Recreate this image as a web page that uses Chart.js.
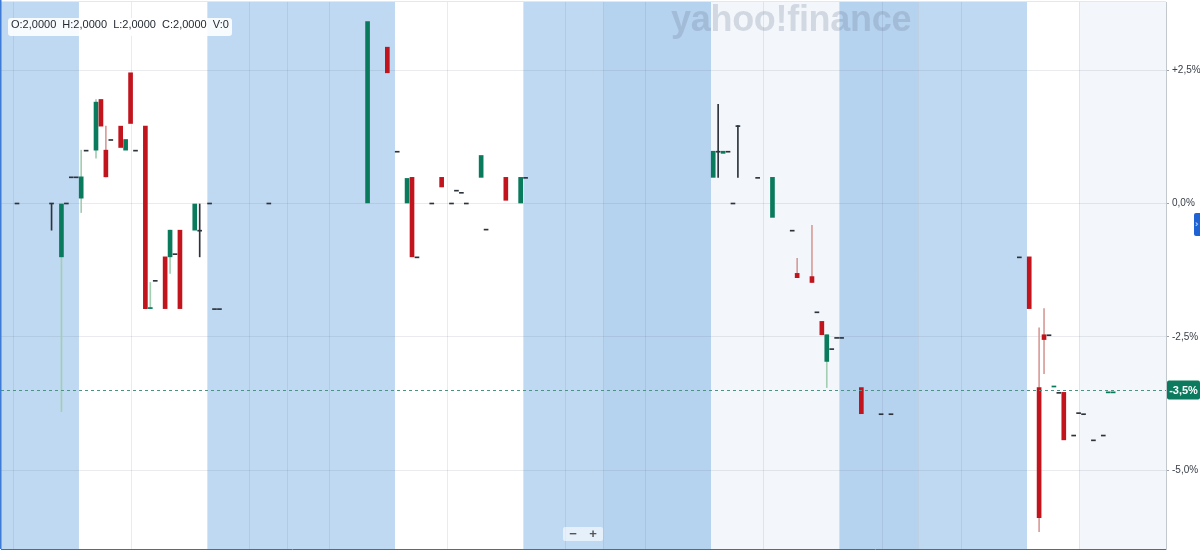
<!DOCTYPE html>
<html>
<head>
<meta charset="utf-8">
<script src="https://cdn.jsdelivr.net/npm/chart.js@4.4.1/dist/chart.umd.min.js"></script>
<style>
    html, body { margin: 0; padding: 0; background: #fff; }
    #wrap { position: relative; width: 1200px; height: 551px; overflow: hidden; }
    canvas { display: block; }
    #ohlc {
        position: absolute; left: 8px; top: 18px; height: 18px; line-height: 18px;
        padding: 0 3px; border-radius: 3px; background: rgba(255,255,255,0.88);
        font: 11px "Liberation Sans", Arial, sans-serif; color: #232a31; white-space: pre;
    }
    #logo {
        position: absolute; left: 671px; top: -2px; font: 800 36px "Liberation Sans", Arial, sans-serif;
        letter-spacing: -0.3px; color: rgba(95,110,135,0.22); white-space: pre;
    }
    #zoomer {
        position: absolute; left: 563px; top: 527px; width: 40px; height: 14px;
        background: rgba(255,255,255,0.6); border-radius: 2px; display: flex;
        font: bold 13px "Liberation Sans", Arial, sans-serif; color: #555; line-height: 14px;
    }
    #zoomer span { flex: 1; text-align: center; }
    #tab {
        position: absolute; left: 1194px; top: 213px; width: 8px; height: 23px; background: #1f62d4;
        border-radius: 2px 0 0 2px; color: #fff; font: 9px "Liberation Sans", Arial, sans-serif;
        line-height: 23px; padding-left: 1px;
    }
</style>
</head>
<body>
<div id="wrap">
    <canvas id="candles" width="1200" height="551"></canvas>
    <div id="logo">yahoo!finance</div>
    <div id="ohlc">O:2,0000  H:2,0000  L:2,0000  C:2,0000  V:0</div>
    <div id="zoomer"><span>−</span><span>+</span></div>
    <div id="tab">›</div>
</div>
<script>
// 15-minute slots over extended hours (16h per day = 64 slots), values in % change
const slots = [3, 10, 12, 13, 14, 15, 16, 17, 19, 20,
    21, 22, 24, 25, 26, 27, 29, 30, 31, 33,
    34, 35, 36, 39, 40, 42, 43, 44, 54, 74,
    78, 80, 82, 83, 84, 87, 89, 91, 92, 93,
    94, 97, 98, 102, 105, 106, 144, 145, 146, 147,
    148, 149, 153, 156, 160, 161, 164, 165, 166, 167,
    168, 169, 170, 174, 178, 180, 206, 208, 210, 211,
    212, 213, 214, 215, 217, 218, 219, 221, 223, 224,
    225];
const opens = [0, 0, -1.0, 0, 0.5, 0.5, 0.1, 1.0, 1.0, 1.95,
    1.0, 1.2, 1.45, 1.0, 2.45, 1.0, 1.45, -1.97, -1.44, -1.0,
    -1.0, -0.94, -0.5, -0.5, -0.5, 0, -1.97, -1.97, 0, 0,
    2.93, 0.98, 0, 0.49, -1.0, 0, 0.49, 0, 0.25, 0.21,
    0, 0.49, -0.48, 0.49, 0, 0.49, 0.49, 0.98, 0.94, 0.98,
    0, 1.46, 0.49, -0.26, -0.5, -1.31, -1.37, -2.03, -2.21, -2.96,
    -2.72, -2.51, -2.51, -3.45, -3.94, -3.94, -1.0, -1.0, -3.45, -2.46,
    -2.46, -3.44, -3.54, -3.54, -4.34, -3.92, -3.94, -4.43, -4.34, -3.55,
    -3.55];
const highs = [0, 0, 0, 0, 0.5, 0.5, 1.0, 1.0, 1.95, 1.95,
    1.45, 1.2, 1.45, 1.2, 2.45, 1.0, 1.45, -1.48, -1.44, -1.0,
    -0.5, -0.94, -0.5, 0, 0, 0, -1.97, -1.97, 0, 3.41,
    2.93, 0.98, 0.47, 0.49, -1.0, 0, 0.49, 0, 0.25, 0.21,
    0, 0.9, -0.48, 0.49, 0.49, 0.49, 0.98, 1.86, 0.98, 0.98,
    0, 1.46, 0.49, 0.49, -0.5, -1.03, -0.41, -2.03, -2.21, -2.46,
    -2.72, -2.51, -2.51, -3.45, -3.94, -3.94, -1.0, -1.0, -2.33, -1.97,
    -2.46, -3.42, -3.54, -3.54, -4.34, -3.92, -3.94, -4.43, -4.34, -3.53,
    -3.53];
const lows = [0, -0.5, -3.9, 0, 0.5, 0.5, -0.17, 1.0, 0.85, 1.45,
    0.5, 1.2, 1.05, 1.0, 1.5, 1.0, -1.97, -1.97, -1.44, -1.97,
    -1.31, -0.94, -1.97, -0.5, -1.0, 0, -1.97, -1.97, 0, 0,
    2.45, 0.98, 0, -1.0, -1.0, 0, 0.31, 0, 0.25, 0.21,
    0, 0.49, -0.48, 0.06, 0, 0.49, 0.49, 0.49, 0.94, 0.98,
    0, 0.49, 0.49, -0.26, -0.5, -1.39, -1.48, -2.03, -2.46, -3.45,
    -2.72, -2.51, -2.51, -3.94, -3.94, -3.94, -1.0, -1.97, -6.15, -3.19,
    -2.46, -3.44, -3.54, -4.43, -4.34, -3.92, -3.94, -4.43, -4.34, -3.55,
    -3.55];
const closes = [0, 0, 0, 0, 0.5, 0.5, 0.5, 1.0, 1.9, 1.45,
    0.5, 1.2, 1.05, 1.2, 1.5, 1.0, -1.97, -1.95, -1.44, -1.97,
    -0.5, -0.94, -1.97, 0, -0.5, 0, -1.97, -1.97, 0, 3.41,
    2.45, 0.98, 0.47, -1.0, -1.0, 0, 0.31, 0, 0.25, 0.21,
    0, 0.9, -0.48, 0.06, 0.49, 0.49, 0.98, 0.98, 0.98, 0.98,
    0, 1.46, 0.49, 0.49, -0.5, -1.39, -1.48, -2.03, -2.46, -2.46,
    -2.72, -2.51, -2.51, -3.94, -3.94, -3.94, -1.0, -1.97, -5.89, -2.55,
    -2.46, -3.42, -3.54, -4.43, -4.34, -3.92, -3.94, -4.43, -4.34, -3.53,
    -3.53];

const lastPct = -3.5;
const yTicks = [2.5, 0, -2.5, -5];
const yRange = [-6.476, 3.777];
const xRange = [-0.24, 235.7];
// vertical grid at 6:00, 12:00, 18:00, 20:00 of each day
const gridSlots = [2.2, 26.2, 50.1, 57.7, 66.2, 90.2, 114.1, 121.7, 130.2, 154.2, 178.2, 185.6, 194.2, 218.1];
// session shading: edges and kind of each band
const bandEdges = [-0.24, 15.55, 41.55, 79.55, 105.55, 121.7, 143.55, 169.55, 185.6, 207.55, 218.1, 235.7];
const bandKinds = ['ext', 'reg', 'ext', 'reg', 'ext', 'extHi', 'regHi', 'extHi', 'ext', 'reg', 'regHi'];

const bandColors = { ext: '#bfd9f2', extHi: '#b5d2ef', reg: '#ffffff', regHi: '#f3f7fb' };
const upColor = '#0a7a5d';
const downColor = '#c1141d';
const flatColor = '#2d333c';

const fmtPct = v => (v > 0 ? '+' : '') + v.toFixed(1).replace('.', ',') + '%';

const bodyData = slots.map((s, i) => ({ x: s, y: [opens[i], closes[i]] }));
const bodyColors = slots.map((s, i) => closes[i] > opens[i] ? upColor : closes[i] < opens[i] ? downColor : flatColor);

const wickData = [];
const wickColors = [];
slots.forEach((s, i) => {
    const top = Math.max(opens[i], closes[i]);
    const bot = Math.min(opens[i], closes[i]);
    if (highs[i] > top || lows[i] < bot) {
        wickData.push({ x: s, y: [lows[i], highs[i]] });
        wickColors.push(closes[i] > opens[i] ? '#a3ceb2' : closes[i] < opens[i] ? '#d79d99' : flatColor);
    }
});

const sessionBands = {
    id: 'sessionBands',
    beforeDraw(chart) {
        const { ctx, chartArea, scales } = chart;
        ctx.save();
        bandKinds.forEach((kind, i) => {
            const x1 = scales.x.getPixelForValue(bandEdges[i]);
            const x2 = scales.x.getPixelForValue(bandEdges[i + 1]);
            ctx.fillStyle = bandColors[kind];
            ctx.fillRect(x1, chartArea.top, x2 - x1, chartArea.bottom - chartArea.top);
        });
        // faint top edge
        ctx.fillStyle = '#e4e7eb';
        ctx.fillRect(chartArea.left, chartArea.top - 1, chartArea.right - chartArea.left, 1);
        ctx.restore();
    }
};

const lastPrice = {
    id: 'lastPrice',
    afterDraw(chart) {
        const { ctx, chartArea, scales } = chart;
        const y = Math.round(scales.y.getPixelForValue(lastPct)) + 0.5;
        ctx.save();
        ctx.strokeStyle = '#4b9383';
        ctx.lineWidth = 1;
        ctx.setLineDash([3, 3]);
        ctx.beginPath();
        ctx.moveTo(chartArea.left, y);
        ctx.lineTo(chartArea.right, y);
        ctx.stroke();
        ctx.setLineDash([]);
        ctx.fillStyle = '#0c7a5e';
        ctx.beginPath();
        ctx.roundRect(chartArea.right + 1, y - 10, 33, 19, 2);
        ctx.fill();
        ctx.fillStyle = '#fff';
        ctx.font = 'bold 11px "Liberation Sans", Arial, sans-serif';
        ctx.textAlign = 'center';
        ctx.textBaseline = 'middle';
        ctx.fillText(fmtPct(lastPct), chartArea.right + 17.5, y);
        // left edge marker
        ctx.fillStyle = '#3d7bd6';
        ctx.fillRect(0, 0, 1.5, chartArea.bottom);
        ctx.restore();
    }
};

const ctx = document.getElementById('candles').getContext('2d');
new Chart(ctx, {
    type: 'bar',
    data: {
        datasets: [{
            label: 'wick',
            data: wickData,
            backgroundColor: wickColors,
            barThickness: 1,
            grouped: false,
            order: 2
        }, {
            label: 'body',
            data: bodyData,
            backgroundColor: bodyColors,
            barThickness: 4,
            minBarLength: 1,
            grouped: false,
            order: 1
        }]
    },
    options: {
        responsive: false,
        animation: false,
        events: [],
        devicePixelRatio: 1,
        layout: { padding: { left: 1, top: 2, right: 0, bottom: 2 } },
        plugins: {
            legend: { display: false },
            tooltip: { enabled: false }
        },
        scales: {
            x: {
                type: 'linear',
                min: xRange[0],
                max: xRange[1],
                offset: false,
                grid: { color: 'rgba(90,100,120,0.13)', drawTicks: false, offset: false },
                border: { display: true, color: '#5f6874', width: 1 },
                ticks: { display: false },
                afterBuildTicks: axis => { axis.ticks = gridSlots.map(v => ({ value: v })); },
                afterFit: axis => { axis.height = 0; axis.paddingLeft = 0; axis.paddingRight = 0; }
            },
            y: {
                position: 'right',
                min: yRange[0],
                max: yRange[1],
                grid: { color: 'rgba(90,100,120,0.13)', tickColor: '#9aa1aa', tickLength: 3 },
                border: { display: true, color: '#c3c8cf' },
                ticks: {
                    callback: v => fmtPct(v),
                    color: '#3a4049',
                    padding: 3,
                    font: { size: 10, family: '"Liberation Sans", Arial, sans-serif' }
                },
                afterBuildTicks: axis => { axis.ticks = yTicks.map(v => ({ value: v })); },
                afterFit: axis => { axis.width = 34; axis.paddingTop = 0; axis.paddingBottom = 0; }
            }
        }
    },
    plugins: [sessionBands, lastPrice]
});
</script>
</body>
</html>
